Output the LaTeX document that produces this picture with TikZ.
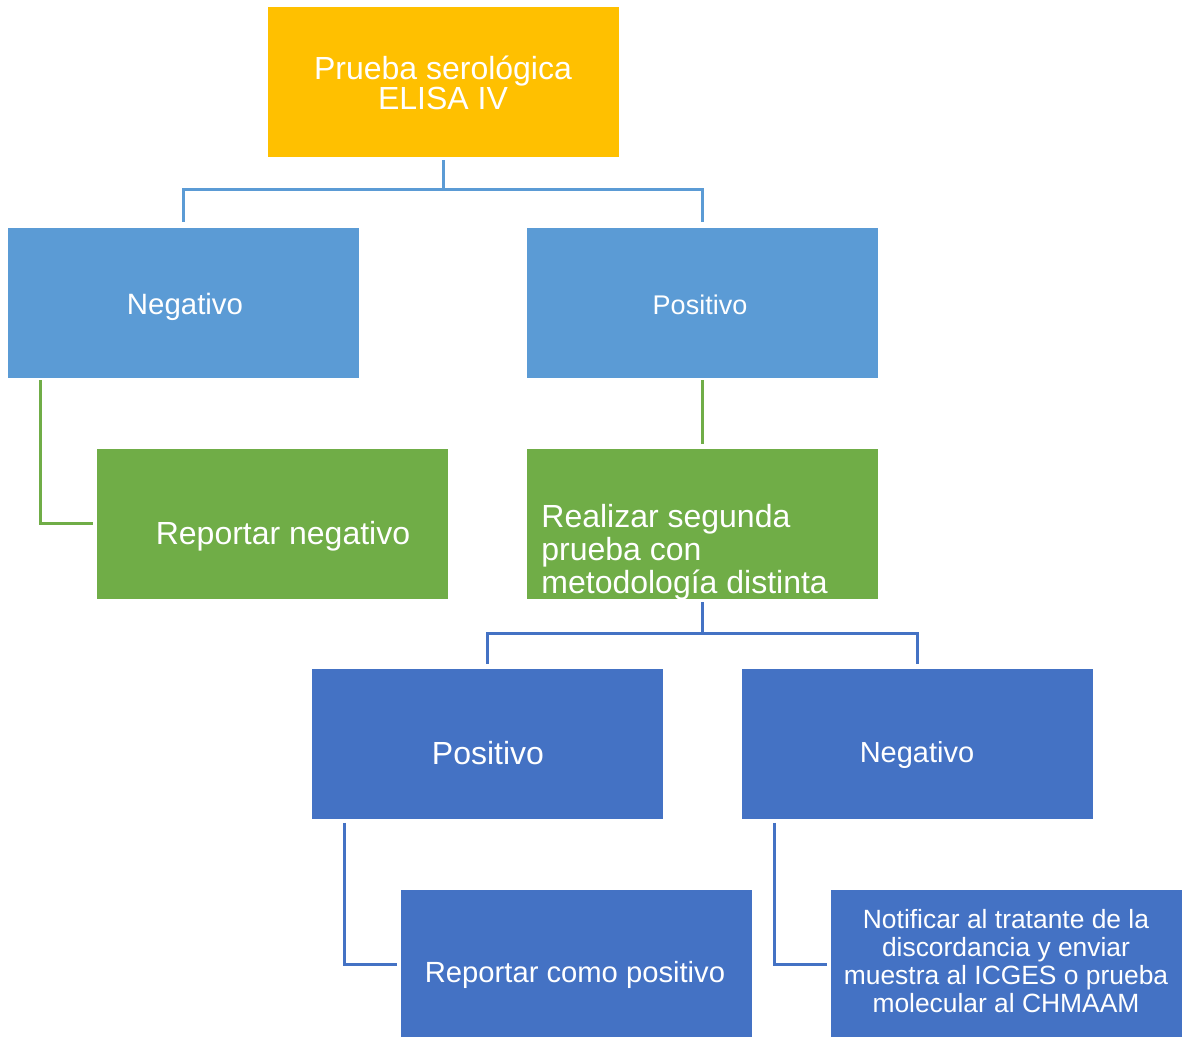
\documentclass[tikz,border=0pt]{standalone}
\usepackage{fontspec}
\setmainfont{Liberation Sans}
\definecolor{gold}{HTML}{FFC000}
\definecolor{lightblue}{HTML}{5B9BD5}
\definecolor{leafgreen}{HTML}{70AD47}
\definecolor{darkblue}{HTML}{4472C4}

\begin{document}
\begin{tikzpicture}[x=0.5pt,y=-0.5pt,
    box/.style={rectangle, minimum width=176pt, minimum height=75.5pt, inner sep=0pt, draw=white, line width=0.3pt},
    txt/.style={text=white, inner sep=0pt, align=center},
    link/.style={line width=1.5pt}]
    \useasboundingbox (0,0) rectangle (1183,1037);
    % First test
    \node[box, fill=gold] (elisa) at (443,81.5) {};
    \node[txt, font=\fontsize{16}{15}\selectfont] (elisatxt) at (443,83) {Prueba serológica\\ELISA IV};
    % First result
    \node[box, fill=lightblue] (negA) at (183,302.5) {};
    \node[txt, font=\fontsize{14.7}{16}\selectfont] (negAtxt) at (185,307) {Negativo};
    \node[box, fill=lightblue] (posA) at (702,302.5) {};
    \node[txt, font=\fontsize{13.5}{15}\selectfont] (posAtxt) at (700,305) {Positivo};
    \node[box, fill=leafgreen] (repneg) at (272,523.5) {};
    \node[txt, font=\fontsize{16}{17}\selectfont] (repnegtxt) at (283,536) {Reportar negativo};
    \node[box, fill=leafgreen] (second) at (702,523.5) {};
    \node[txt, align=left, anchor=west, font=\fontsize{16}{16.5}\selectfont] (secondtxt) at (541,552) {Realizar segunda\\prueba con\\metodología distinta};
    % Second result
    \node[box, fill=darkblue] (posB) at (487,744) {};
    \node[txt, font=\fontsize{16}{17}\selectfont] (posBtxt) at (488,753) {Positivo};
    \node[box, fill=darkblue] (negB) at (917,744) {};
    \node[txt, font=\fontsize{14.5}{16}\selectfont] (negBtxt) at (917,755) {Negativo};
    \node[box, fill=darkblue] (reppos) at (576,964.5) {};
    \node[txt, font=\fontsize{14.6}{16}\selectfont] (reppostxt) at (575,975) {Reportar como positivo};
    \node[box, fill=darkblue] (notif) at (1006,964.5) {};
    \node[txt, font=\fontsize{13.2}{13.9}\selectfont] (notiftxt) at (1006,961) {Notificar al tratante de la\\discordancia y enviar\\muestra al ICGES o prueba\\molecular al CHMAAM};
    % Connectors
    \coordinate (splitA) at (443,190);
    \draw[link, lightblue, shorten <=1.5pt] (elisa.south) -- (splitA);
    \draw[link, lightblue, shorten >=2.5pt] (splitA) -| (negA.north);
    \draw[link, lightblue, shorten >=2.5pt] (splitA) -| (posA.north);
    \draw[link, leafgreen, shorten <=1pt, shorten >=1.5pt] ([xshift=17pt]negA.south west) |- (repneg.west);
    \draw[link, leafgreen, shorten <=1pt, shorten >=2pt] (posA.south) -- (second.north);
    \coordinate (splitB) at (702,633);
    \draw[link, darkblue, shorten <=1.5pt] (second.south) -- (splitB);
    \draw[link, darkblue, shorten >=2pt] (splitB) -| (posB.north);
    \draw[link, darkblue, shorten >=2pt] (splitB) -| (negB.north);
    \draw[link, darkblue, shorten <=1.5pt, shorten >=1.5pt] ([xshift=17pt]posB.south west) |- (reppos.west);
    \draw[link, darkblue, shorten <=1.5pt, shorten >=1.5pt] ([xshift=17pt]negB.south west) |- (notif.west);
\end{tikzpicture}
\end{document}
